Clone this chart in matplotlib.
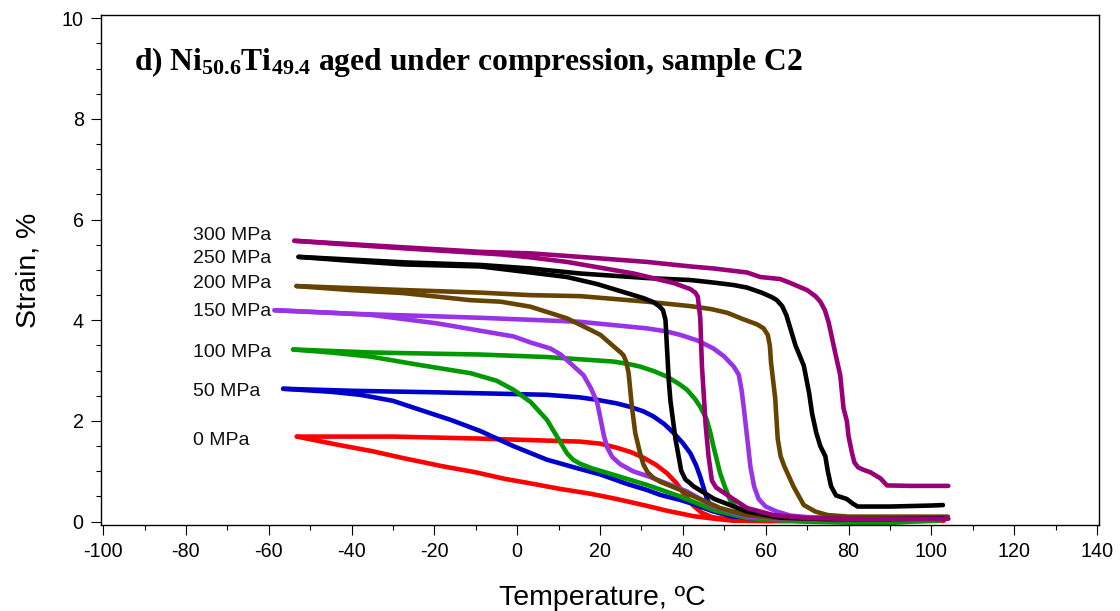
import matplotlib
matplotlib.use("Agg")
import matplotlib.pyplot as plt
from matplotlib.ticker import MultipleLocator

plt.rcParams['font.family'] = ['Liberation Sans', 'DejaVu Sans']
plt.rcParams['axes.unicode_minus'] = False
plt.rcParams['mathtext.fontset'] = 'custom'
plt.rcParams['mathtext.rm'] = 'Liberation Serif:bold'
plt.rcParams['mathtext.it'] = 'Liberation Serif:bold'
plt.rcParams['mathtext.bf'] = 'Liberation Serif:bold'

# ---------------- data (temperature in degC, strain in %) ----------------
stresses = ["0 MPa", "50 MPa", "100 MPa", "150 MPa", "200 MPa", "250 MPa", "300 MPa"]
colors = ["#FF0000", "#0000CC", "#009900", "#9933E6", "#664400", "#000000", "#990078"]
label_y = [1.62, 2.58, 3.37, 4.18, 4.74, 5.22, 5.68]
label_x = -78.4

# 0 MPa
heat_T_0 = [-53.2, -30, -8.9, 3.2, 15.2, 20, 24, 27.5, 30.5, 33.5, 36.2, 38.5, 40.1, 42.5, 44.5, 47, 52.2, 60, 80, 103]
heat_s_0 = [1.69, 1.69, 1.65, 1.62, 1.59, 1.55, 1.47, 1.38, 1.27, 1.13, 0.96, 0.76, 0.57, 0.32, 0.18, 0.09, 0.03, 0.02, 0.02, 0.02]
cool_T_0 = [-53.2, -43.5, -35, -27.4, -18, -10, -3, 3.2, 10.4, 18, 24, 31, 36, 42.5, 47.4, 52, 60, 80, 103]
cool_s_0 = [1.69, 1.53, 1.40, 1.26, 1.10, 0.98, 0.85, 0.76, 0.65, 0.55, 0.45, 0.32, 0.22, 0.11, 0.06, 0.02, 0.01, 0.01, 0.02]

# 50 MPa
heat_T_50 = [-56.5, -40, -20, -8.9, 7.2, 15, 19.3, 24, 27.3, 30.5, 32.9, 35.5, 37.8, 40, 41.8, 43.2, 44.2, 45.2, 45.8, 47, 48.5, 52, 60, 80, 102]
heat_s_50 = [2.64, 2.60, 2.57, 2.55, 2.52, 2.47, 2.42, 2.35, 2.28, 2.19, 2.09, 1.94, 1.76, 1.56, 1.36, 1.12, 0.89, 0.62, 0.45, 0.28, 0.18, 0.10, 0.07, 0.06, 0.06]
cool_T_50 = [-56.5, -45, -37.9, -30, -23.4, -16, -8.9, -0.9, 7.2, 15, 20, 26.5, 31.3, 34.6, 39.4, 42.5, 47.4, 55.5, 65, 80, 102]
cool_s_50 = [2.64, 2.58, 2.52, 2.40, 2.22, 2.02, 1.80, 1.50, 1.23, 1.05, 0.94, 0.75, 0.63, 0.53, 0.43, 0.35, 0.20, 0.07, 0.04, 0.05, 0.06]

# 100 MPa
heat_T_100 = [-54.1, -35, -8.9, 7.2, 23.3, 27, 29.7, 33, 36.2, 39, 41.0, 43, 44.2, 45.2, 45.8, 46.6, 47.4, 49.0, 50.2, 51.4, 53, 54.7, 57, 60, 70, 80, 88, 95, 102]
heat_s_100 = [3.42, 3.36, 3.32, 3.27, 3.18, 3.13, 3.08, 2.99, 2.88, 2.74, 2.62, 2.43, 2.28, 2.12, 2.02, 1.78, 1.49, 0.96, 0.68, 0.43, 0.27, 0.17, 0.09, 0.05, 0.0, -0.02, -0.04, 0.0, 0.02]
cool_T_100 = [-54.1, -45, -35.5, -23.4, -11.3, -5, -0.9, 3.2, 7.2, 9.6, 12.0, 13.5, 15.2, 18, 23.3, 31.3, 39.4, 47.4, 55.5, 65, 80, 102]
cool_s_100 = [3.42, 3.36, 3.28, 3.11, 2.95, 2.80, 2.62, 2.38, 2.02, 1.69, 1.36, 1.23, 1.15, 1.06, 0.93, 0.73, 0.50, 0.23, 0.07, 0.02, 0.0, 0.02]

# 150 MPa
heat_T_150 = [-58.6, -40, -20, -8.9, 15.2, 31.3, 36, 39.4, 43.5, 47.4, 50, 52.3, 53.5, 54.2, 54.7, 55.5, 56.3, 57.2, 58.3, 60, 62.7, 66, 70, 80, 102]
heat_s_150 = [4.20, 4.13, 4.08, 4.05, 3.97, 3.84, 3.78, 3.71, 3.60, 3.44, 3.28, 3.08, 2.92, 2.60, 2.27, 1.69, 1.10, 0.70, 0.45, 0.30, 0.20, 0.12, 0.09, 0.07, 0.07]
cool_T_150 = [-58.6, -45, -35.5, -19.4, -7.3, -0.9, 3.2, 8.0, 10.5, 12.8, 16.0, 17.8, 19.3, 20.1, 20.9, 21.7, 23, 24.9, 28, 32, 41, 47.4, 55.5, 65, 80, 102]
cool_s_150 = [4.20, 4.15, 4.11, 3.94, 3.77, 3.68, 3.56, 3.44, 3.32, 3.15, 2.91, 2.65, 2.37, 2.05, 1.72, 1.48, 1.28, 1.14, 1.00, 0.89, 0.60, 0.30, 0.10, 0.05, 0.05, 0.07]

# 200 MPa
heat_T_200 = [-53.3, -27, -8.9, 3.2, 15.2, 31.3, 42, 47, 50.7, 54.3, 57.9, 59.5, 60.5, 61.0, 61.3, 62.3, 62.9, 63.6, 64.5, 66.7, 69.2, 72, 75, 80, 104]
heat_s_200 = [4.68, 4.60, 4.55, 4.50, 4.48, 4.37, 4.28, 4.22, 4.15, 4.03, 3.92, 3.84, 3.71, 3.50, 3.15, 2.45, 1.65, 1.30, 1.10, 0.70, 0.33, 0.20, 0.13, 0.10, 0.10]
cool_T_200 = [-53.3, -40, -27.4, -11.3, -4.0, 3.2, 12.0, 17.7, 20.1, 23.3, 25.0, 25.7, 26.3, 26.9, 27.7, 28.5, 29.7, 30.5, 31.5, 32.9, 34.6, 39.4, 41.0, 47.4, 49.0, 55.5, 63.5, 80, 104]
cool_s_200 = [4.68, 4.60, 4.54, 4.40, 4.37, 4.27, 4.04, 3.81, 3.71, 3.48, 3.36, 3.30, 3.18, 2.95, 2.28, 1.76, 1.35, 1.13, 0.98, 0.87, 0.79, 0.63, 0.56, 0.33, 0.27, 0.13, 0.07, 0.05, 0.06]

# 250 MPa
heat_T_250 = [-52.8, -27, -8.9, 3.2, 15.2, 31.3, 41.8, 47.4, 52.3, 55.5, 59, 61.5, 62.7, 64.0, 65.0, 67.2, 69.2, 70.5, 71.2, 72.2, 73.2, 74.4, 75.0, 75.8, 77, 79.6, 81, 82.2, 90, 100, 102.8]
heat_s_250 = [5.26, 5.15, 5.10, 5.03, 4.93, 4.84, 4.80, 4.75, 4.70, 4.65, 4.55, 4.46, 4.40, 4.28, 4.10, 3.50, 3.10, 2.55, 2.15, 1.77, 1.50, 1.30, 1.00, 0.70, 0.52, 0.45, 0.36, 0.30, 0.30, 0.32, 0.33]
cool_T_250 = [-52.8, -40, -27.4, -8.9, 3.2, 12.0, 19.3, 27.3, 30.5, 32.9, 34.3, 35.2, 35.8, 36.2, 36.6, 37.0, 38.2, 39.6, 40.6, 41.8, 42.6, 47.6, 55.5, 63.5, 75, 90, 102.8]
cool_s_250 = [5.26, 5.18, 5.11, 5.07, 4.95, 4.86, 4.72, 4.52, 4.44, 4.36, 4.28, 4.20, 4.01, 3.40, 2.80, 2.40, 1.65, 1.01, 0.84, 0.76, 0.70, 0.45, 0.20, 0.08, 0.05, 0.05, 0.07]

# 300 MPa
heat_T_300 = [-53.8, -27.4, -8.9, 3.2, 15.2, 31.3, 41.8, 47.4, 55.5, 58.7, 63.5, 66, 70, 72, 73.2, 74.3, 75.2, 76.8, 78.0, 78.8, 79.6, 80.0, 80.8, 81.4, 82.3, 83.6, 85.3, 87.7, 89.3, 95, 104.1]
heat_s_300 = [5.58, 5.45, 5.36, 5.33, 5.26, 5.16, 5.07, 5.03, 4.95, 4.86, 4.82, 4.74, 4.60, 4.48, 4.37, 4.20, 3.96, 3.35, 2.91, 2.25, 2.00, 1.70, 1.38, 1.18, 1.08, 1.03, 0.98, 0.86, 0.72, 0.71, 0.71]
cool_T_300 = [-53.8, -40, -27.4, -4.0, 3.2, 12.0, 28.1, 37.8, 41.8, 43.0, 43.6, 44.2, 44.6, 45.0, 45.5, 46.2, 47.0, 48, 50.7, 55.5, 61.9, 70, 85, 104.1]
cool_s_300 = [5.58, 5.50, 5.43, 5.31, 5.25, 5.16, 4.93, 4.74, 4.62, 4.55, 4.47, 4.05, 3.10, 2.58, 1.92, 1.30, 0.82, 0.68, 0.53, 0.27, 0.13, 0.07, 0.05, 0.06]

heat_T = [heat_T_0, heat_T_50, heat_T_100, heat_T_150, heat_T_200, heat_T_250, heat_T_300]
heat_s = [heat_s_0, heat_s_50, heat_s_100, heat_s_150, heat_s_200, heat_s_250, heat_s_300]
cool_T = [cool_T_0, cool_T_50, cool_T_100, cool_T_150, cool_T_200, cool_T_250, cool_T_300]
cool_s = [cool_s_0, cool_s_50, cool_s_100, cool_s_150, cool_s_200, cool_s_250, cool_s_300]

x_ticks = [-100, -80, -60, -40, -20, 0, 20, 40, 60, 80, 100, 120, 140]
y_ticks = [0, 2, 4, 6, 8, 10]

# ---------------- figure ----------------
fig = plt.figure(figsize=(11.2, 6.11), dpi=100)
ax = fig.add_axes([0.0902, 0.1408, 0.8911, 0.8347])

for i in range(len(stresses)):
    ax.plot(cool_T[i], cool_s[i], color=colors[i], lw=3.3, solid_capstyle='round', solid_joinstyle='round')
    ax.plot(heat_T[i], heat_s[i], color=colors[i], lw=3.3, solid_capstyle='round', solid_joinstyle='round')

for lab, yv in zip(stresses, label_y):
    ax.text(label_x, yv, lab, fontsize=14, ha='left', va='center', color='#111111')

ax.text(-92.6, 8.97,
        r'd) Ni$_{\mathrm{50.6}}$Ti$_{\mathrm{49.4}}$ aged under compression, sample C2',
        fontsize=22.7, fontfamily='Liberation Serif', fontweight='bold', ha='left', va='baseline')

ax.set_xlim(-100.5, 140.5)
ax.set_ylim(-0.066, 10.066)
ax.set_xticks(x_ticks)
ax.set_yticks(y_ticks)
ax.xaxis.set_minor_locator(MultipleLocator(10))
ax.yaxis.set_minor_locator(MultipleLocator(0.5))
ax.tick_params(which='major', direction='out', length=7.5, width=0.8, labelsize=14.2, pad=5)
ax.tick_params(which='minor', direction='out', length=3.8, width=0.8)
for sp in ax.spines.values():
    sp.set_linewidth(1.0)

ax.set_xlabel('Temperature, ºC', fontsize=20.5)
ax.set_ylabel('Strain, %', fontsize=20.5)
ax.xaxis.set_label_coords(0.5025, -0.157)
ax.xaxis.label.set_va('baseline')
ax.yaxis.set_label_coords(-0.0731, 0.5)
ax.yaxis.label.set_va('center')

fig.savefig('out.png', dpi=100)
